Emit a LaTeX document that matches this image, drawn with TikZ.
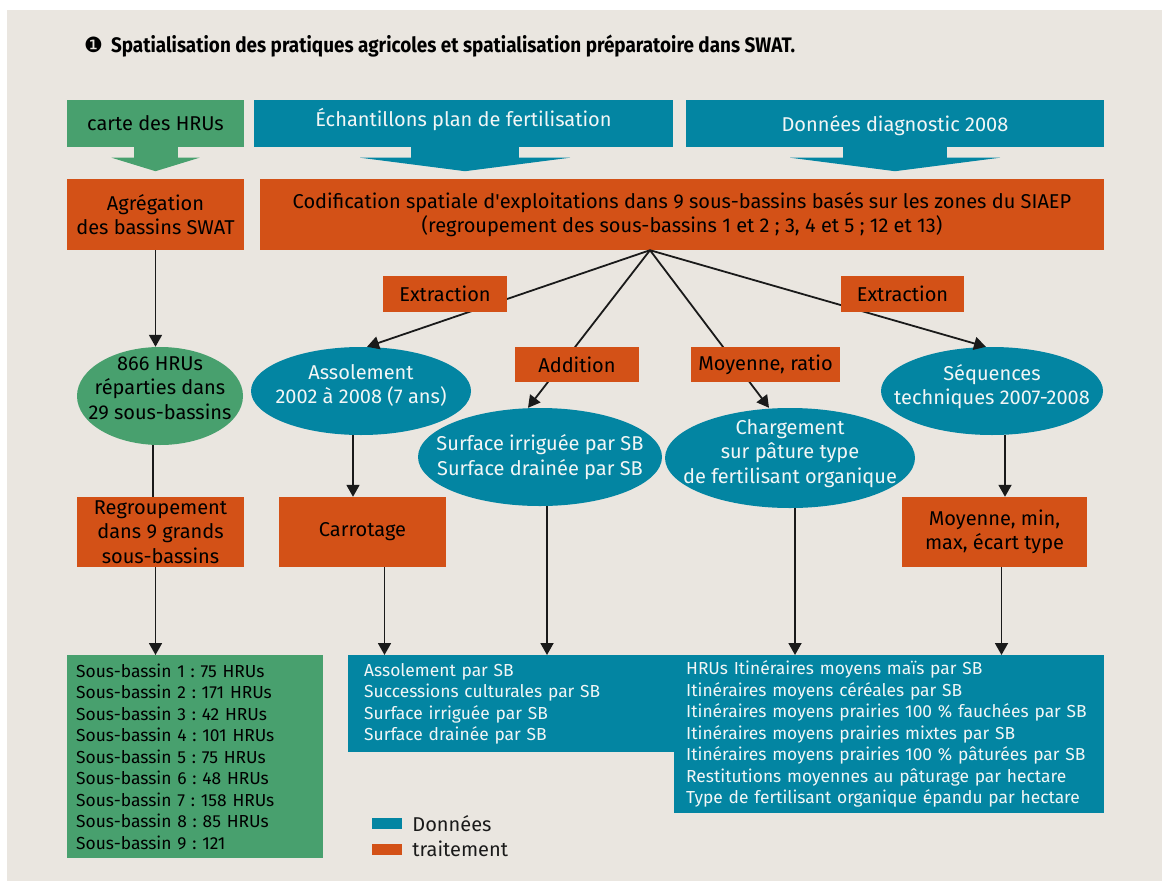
\documentclass[tikz,border=0pt]{standalone}
\usepackage{fontspec}
\setmainfont[Numbers=Proportional]{Fira Sans}
\newfontfamily\titlefont[FakeStretch=0.9]{Fira Sans}
\newfontfamily\dingfont{DejaVu Sans}
\usetikzlibrary{shapes.geometric, arrows.meta, positioning, calc}
\frenchspacing
\definecolor{bgbeige}{HTML}{EAE6E0}
\definecolor{hrugreen}{HTML}{48A06E}
\definecolor{datablue}{HTML}{0385A2}
\definecolor{datatext}{HTML}{F2F6F6}
\definecolor{treatorange}{HTML}{D35117}
\definecolor{linegray}{HTML}{1A1A1A}

\begin{document}
\begin{tikzpicture}[x=1pt, y=-1pt,
  txt/.style={font=\fontsize{20}{24.5}\selectfont, align=center, inner sep=0pt},
  src/.style={txt, rectangle, fill=datablue, text=datatext},
  srchru/.style={txt, rectangle, fill=hrugreen, text=black},
  treat/.style={txt, rectangle, fill=treatorange, text=black},
  dataell/.style={txt, ellipse, fill=datablue, text=datatext, inner xsep=-40pt, inner ysep=-15pt},
  hruell/.style={txt, ellipse, fill=hrugreen, text=black, inner xsep=-40pt, inner ysep=-15pt},
  lst/.style={rectangle, align=left, inner ysep=0pt, font=\fontsize{17.4}{21.5}\selectfont},
  arr/.style={-{Triangle[length=12pt,width=13pt]}, line width=1.8pt, color=linegray},
  lnk/.style={line width=1.8pt, color=linegray},
]
\useasboundingbox (0,0) rectangle (1162,881);
\fill[bgbeige] (7,10) rectangle (1162,881);

% --- title ---
\node[anchor=base west, inner sep=0pt, font=\titlefont\bfseries\fontsize{21}{24}\selectfont] (title) at (84,52)
  {{\dingfont\mdseries\fontsize{21}{24}\selectfont ❶}\hspace{8pt}Spatialisation des pratiques agricoles et spatialisation préparatoire dans SWAT.};

% --- sources (top) ---
\node[srchru, minimum width=177, minimum height=47] (carte) at (155.5,123.5) {carte des HRUs};
\node[src, minimum width=419, minimum height=47, text depth=12pt] (echant) at (463.5,123.5) {Échantillons plan de fertilisation};
\node[src, minimum width=418, minimum height=47, text height=21pt] (diag) at (895,123.5) {Données diagnostic 2008};

\fill[hrugreen] ([xshift=-22pt,yshift=0.5pt]carte.south) rectangle ([xshift=22pt,yshift=-11pt]carte.south);
\fill[hrugreen] ([xshift=-44pt,yshift=-10.5pt]carte.south) -- ([xshift=44pt,yshift=-10.5pt]carte.south) -- ([yshift=-24pt]carte.south) -- cycle;
\fill[datablue] ([xshift=-52.5pt,yshift=0.5pt]echant.south) rectangle ([xshift=55.5pt,yshift=-11pt]echant.south);
\fill[datablue] ([xshift=-103.5pt,yshift=-10.5pt]echant.south) -- ([xshift=106.5pt,yshift=-10.5pt]echant.south) -- ([xshift=1.5pt,yshift=-24pt]echant.south) -- cycle;
\fill[datablue] ([xshift=-52pt,yshift=0.5pt]diag.south) rectangle ([xshift=52pt,yshift=-11pt]diag.south);
\fill[datablue] ([xshift=-105pt,yshift=-10.5pt]diag.south) -- ([xshift=105pt,yshift=-10.5pt]diag.south) -- ([yshift=-24pt]diag.south) -- cycle;

% --- treatment row ---
\node[treat, minimum width=177, minimum height=71] (agreg) at (155.5,214.5) {Agrégation\\des bassins SWAT};
\node[treat, minimum width=844, minimum height=71] (codif) at (682,214.5)
  {Codification spatiale d\textquotesingle exploitations dans 9 sous-bassins basés sur les zones du SIAEP\\(regroupement des sous-bassins 1 et 2 ; 3, 4 et 5 ; 12 et 13)};
\coordinate (hub) at ([xshift=-32pt]codif.south);

% --- ellipses ---
\node[hruell, minimum width=166, minimum height=98, text depth=16pt] (hrus) at (160,396) {866 HRUs\\réparties dans\\29 sous-bassins};
\node[dataell, minimum width=220, minimum height=88, text depth=14pt] (assol) at (361,391) {Assolement\\2002 à 2008 (7 ans)};
\node[dataell, minimum width=244, minimum height=98] (surf) at (540,457) {Surface irriguée par SB\\Surface drainée par SB};
\node[dataell, minimum width=250, minimum height=100, text depth=13pt] (charg) at (790,458) {Chargement\\sur pâture type\\de fertilisant organique};
\node[dataell, minimum width=222, minimum height=88, text depth=13pt] (seq) at (992,391) {Séquences\\techniques 2007-2008};

% --- second treatment row ---
\node[treat, minimum width=167, minimum height=70] (regroup) at (160.5,532) {Regroupement\\dans 9 grands\\sous-bassins};
\node[treat, minimum width=167, minimum height=70] (carrot) at (362.5,532) {Carrotage};
\node[treat, minimum width=185, minimum height=70] (moymin) at (994.5,532) {Moyenne, min,\\max, écart type};

% --- results ---
\node[lst, fill=hrugreen, text=black, anchor=north west, text width=238, inner xsep=9pt, minimum height=203] (sblist) at (67,655)
  {Sous-bassin 1 : 75 HRUs\\Sous-bassin 2 : 171 HRUs\\Sous-bassin 3 : 42 HRUs\\Sous-bassin 4 : 101 HRUs\\Sous-bassin 5 : 75 HRUs\\Sous-bassin 6 : 48 HRUs\\Sous-bassin 7 : 158 HRUs\\Sous-bassin 8 : 85 HRUs\\Sous-bassin 9 : 121};
\node[lst, fill=datablue, text=datatext, anchor=north west, text width=296, inner xsep=16pt, minimum height=97] (solsb) at (348,655)
  {Assolement par SB\\Successions culturales par SB\\Surface irriguée par SB\\Surface drainée par SB};
\node[lst, fill=datablue, text=datatext, anchor=north west, text width=406, inner xsep=12pt, minimum height=158] (itin) at (674,655)
  {HRUs Itinéraires moyens maïs par SB\\Itinéraires moyens céréales par SB\\Itinéraires moyens prairies 100 \% fauchées par SB\\Itinéraires moyens prairies mixtes par SB\\Itinéraires moyens prairies 100 \% pâturées par SB\\Restitutions moyennes au pâturage par hectare\\Type de fertilisant organique épandu par hectare};

% --- arrows ---
\draw[arr] (agreg.south) -- (agreg.south |- hrus.north);
\draw[lnk] ([xshift=-7pt]hrus.south) -- ([xshift=-7pt]hrus.south |- regroup.north);
\draw[arr] ([xshift=-5pt]regroup.south) -- ([xshift=-5pt]regroup.south |- sblist.north);
\draw[arr] (hub) -- ([xshift=6pt]assol.north);
\draw[arr] (hub) -- ([xshift=-12pt]surf.north);
\draw[arr] (hub) -- ([xshift=-21pt]charg.north);
\draw[arr] (hub) -- ([xshift=-6pt]seq.north);
\draw[arr] ([xshift=-8pt]assol.south) -- ([xshift=-8pt]assol.south |- carrot.north);
\draw[arr] ([xshift=22pt]carrot.south) -- ([xshift=22pt]carrot.south |- solsb.north);
\draw[arr] ([xshift=7pt]surf.south) -- ([xshift=7pt]surf.south |- solsb.north);
\draw[arr] ([xshift=5pt]charg.south) -- ([xshift=5pt]charg.south |- itin.north);
\draw[arr] ([xshift=13pt]seq.south) -- ([xshift=13pt]seq.south |- moymin.north);
\draw[arr] ([xshift=7pt]moymin.south) -- ([xshift=7pt]moymin.south |- itin.north);

% --- operation labels (over the lines) ---
\node[treat, minimum width=124, minimum height=36] (extrl) at (445,294) {Extraction};
\node[treat, minimum width=124, minimum height=35] (addit) at (577,364.5) {Addition};
\node[treat, minimum width=149, minimum height=35] (moyrat) at (765.5,364.5) {Moyenne, ratio};
\node[treat, minimum width=123, minimum height=36] (extrr) at (902.5,294) {Extraction};

% --- legend ---
\node[fill=datablue, minimum width=30, minimum height=11, inner sep=0pt] (legdata) at (387,823.5) {};
\node[fill=treatorange, minimum width=30, minimum height=11, inner sep=0pt] (legtreat) at (387,849) {};
\node[txt, anchor=west, text=linegray, right=10pt of legdata] (legdatatxt) {Données};
\node[txt, anchor=west, text=linegray, right=10pt of legtreat] (legtreattxt) {traitement};
\end{tikzpicture}
\end{document}
